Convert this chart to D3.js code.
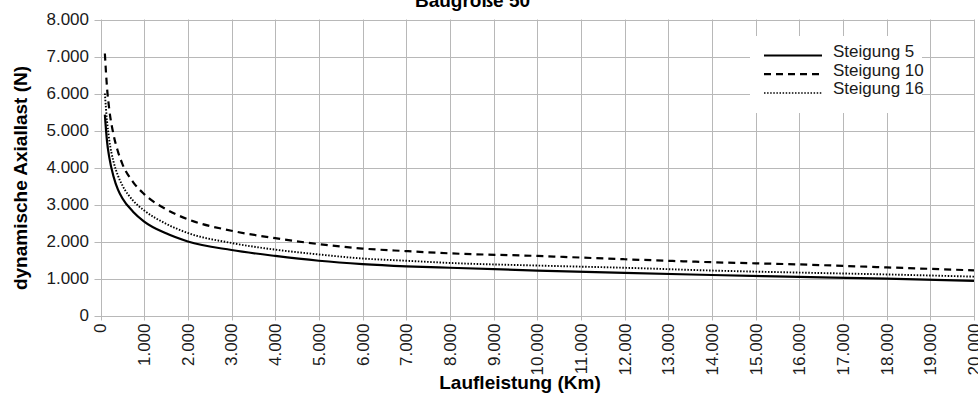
<!DOCTYPE html>
<html>
<head>
<meta charset="utf-8">
<script src="https://cdn.jsdelivr.net/npm/d3@7"></script>
<style>
  body { margin: 0; background: #fff; }
  svg { display: block; font-family: "Liberation Sans", Arial, sans-serif; }
</style>
</head>
<body>
<svg id="chart" width="978" height="400"></svg>
<script>
// ---- data ----
const laufleistung = [100, 150, 200, 300, 400, 500, 750, 1000, 1500, 2000, 3000, 4000, 5000, 6000, 7000, 8000, 10000, 12000, 14000, 16000, 18000, 20000];
const steigung5  = [5430, 4700, 4280, 3750, 3400, 3170, 2800, 2540, 2220, 2000, 1770, 1610, 1480, 1390, 1330, 1290, 1215, 1150, 1095, 1045, 995, 935];
const steigung10 = [7080, 6150, 5580, 4880, 4430, 4100, 3600, 3280, 2870, 2600, 2290, 2090, 1930, 1810, 1740, 1680, 1610, 1520, 1440, 1380, 1300, 1220];
const steigung16 = [6000, 5250, 4750, 4150, 3780, 3520, 3100, 2840, 2480, 2230, 1960, 1780, 1650, 1540, 1480, 1420, 1350, 1290, 1215, 1160, 1110, 1050];
const seriesNames = ["Steigung 5", "Steigung 10", "Steigung 16"];
const xTicks = d3.range(0, 20001, 1000);
const yTicks = d3.range(0, 8001, 1000);
const chartTitle = "Baugröße 50";
const xTitle = "Laufleistung (Km)";
const yTitle = "dynamische Axiallast (N)";

// ---- layout ----
const svg = d3.select("#chart");
const mLeft = 100.5, mRight = 974, mTop = 19.5, mBottom = 315.5;
const x = d3.scaleLinear().domain([0, 20000]).range([mLeft, mRight]);
const y = d3.scaleLinear().domain([0, 8000]).range([mBottom, mTop]);
const fmt = v => v === 0 ? "0" : d3.format(",")(v).replace(/,/g, ".");
const gridColor = "#b8b8b8";

// grid + ticks
svg.append("g").selectAll("line").data(xTicks).join("line")
  .attr("x1", d => Math.round(x(d)) + 0.5).attr("x2", d => Math.round(x(d)) + 0.5)
  .attr("y1", mTop).attr("y2", mBottom + 5)
  .attr("stroke", gridColor).attr("stroke-width", 1);
svg.append("g").selectAll("line").data(yTicks).join("line")
  .attr("x1", mLeft - 6).attr("x2", mRight)
  .attr("y1", d => Math.round(y(d)) + 0.5).attr("y2", d => Math.round(y(d)) + 0.5)
  .attr("stroke", gridColor).attr("stroke-width", 1);

// y tick labels
svg.append("g").selectAll("text").data(yTicks).join("text")
  .attr("x", 89).attr("y", d => y(d)).attr("dy", "0.35em")
  .attr("text-anchor", "end").attr("font-size", 17).attr("fill", "#1a1a1a")
  .text(fmt);

// x tick labels (rotated)
svg.append("g").selectAll("text").data(xTicks).join("text")
  .attr("transform", d => `translate(${x(d)},${mBottom + 8}) rotate(-90)`)
  .attr("dy", "0.35em").attr("text-anchor", "end")
  .attr("font-size", 17).attr("fill", "#1a1a1a")
  .text(fmt);

// lines
const styles = [
  { data: steigung5,  width: 2.2, dash: null },
  { data: steigung10, width: 2.2, dash: "7,5" },
  { data: steigung16, width: 1.9, dash: "1.5,1.6" }
];
const line = d3.line().x((d, i) => x(laufleistung[i])).y(d => y(d)).curve(d3.curveMonotoneX);
styles.forEach(s => {
  svg.append("path").datum(s.data)
    .attr("d", line).attr("fill", "none").attr("stroke", "#000")
    .attr("stroke-width", s.width)
    .attr("stroke-dasharray", s.dash);
});

// legend
const lg = svg.append("g");
lg.append("rect").attr("x", 750).attr("y", 36).attr("width", 172).attr("height", 77).attr("fill", "#fff");
seriesNames.forEach((name, i) => {
  const ly = 55.5 + i * 18.7;
  lg.append("line").attr("x1", 764).attr("x2", 822).attr("y1", ly).attr("y2", ly)
    .attr("stroke", "#000").attr("stroke-width", i === 2 ? 1.5 : styles[i].width)
    .attr("stroke-dasharray", styles[i].dash);
  lg.append("text").attr("x", 833).attr("y", ly + 1.5).attr("font-size", 17).attr("fill", "#1a1a1a")
    .text(name);
});

// titles
svg.append("text").attr("x", 472.5).attr("y", 7).attr("text-anchor", "middle")
  .attr("font-size", 19).attr("font-weight", "bold").attr("fill", "#000").text(chartTitle);
svg.append("text").attr("x", 520).attr("y", 389).attr("text-anchor", "middle")
  .attr("font-size", 19).attr("font-weight", "bold").attr("fill", "#000").text(xTitle);
svg.append("text").attr("transform", "translate(27,178) rotate(-90)").attr("text-anchor", "middle")
  .attr("font-size", 19).attr("font-weight", "bold").attr("fill", "#000").text(yTitle);
</script>
</body>
</html>
